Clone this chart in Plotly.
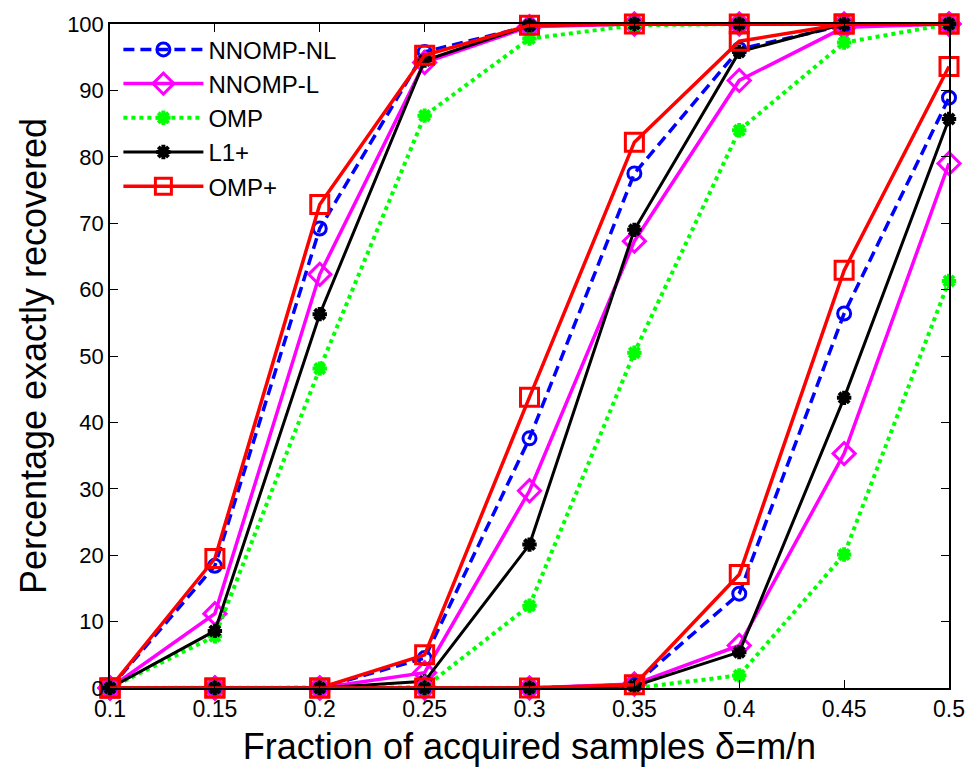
import plotly.graph_objects as go

# Fraction of acquired samples (delta = m/n)
delta = [0.1, 0.15, 0.2, 0.25, 0.3, 0.35, 0.4, 0.45, 0.5]

# Percentage of exactly recovered signals, one row per sparsity level
nnomp_nl = [
    [0, 18.4, 69.2, 95.8, 99.7, 100, 100, 100, 100],
    [0, 0, 0, 4.5, 37.6, 77.5, 96.2, 99.8, 100],
    [0, 0, 0, 0, 0, 0.5, 14.2, 56.4, 88.9],
]
nnomp_l = [
    [0, 11.2, 62.3, 94.2, 99.6, 100, 100, 100, 100],
    [0, 0, 0, 2.3, 29.7, 67.3, 91.5, 99.5, 100],
    [0, 0, 0, 0, 0, 0.6, 6.4, 35.3, 79.0],
]
omp = [
    [0, 7.8, 48.1, 86.2, 97.8, 99.8, 100, 100, 100],
    [0, 0, 0, 0.1, 12.4, 50.5, 84.0, 97.2, 100],
    [0, 0, 0, 0, 0, 0, 1.9, 20.1, 61.3],
]
l1_plus = [
    [0, 8.6, 56.3, 94.5, 99.8, 100, 100, 100, 100],
    [0, 0, 0, 1.0, 21.6, 69.0, 95.8, 100, 100],
    [0, 0, 0, 0, 0, 0.3, 5.4, 43.7, 85.7],
]
omp_plus = [
    [0, 19.5, 72.8, 95.3, 99.8, 100, 100, 100, 100],
    [0, 0, 0, 5.0, 43.8, 82.2, 97.4, 100, 100],
    [0, 0, 0, 0, 0, 0.5, 17.1, 62.9, 93.6],
]

methods = ["NNOMP-NL", "NNOMP-L", "OMP", "L1+", "OMP+"]
series = [nnomp_nl, nnomp_l, omp, l1_plus, omp_plus]

styles = {
    "NNOMP-NL": dict(line=dict(color="#0000ff", width=3.5, dash="11px,6px"),
                     marker=dict(symbol="circle-open", size=13, color="#0000ff",
                                 line=dict(width=3, color="#0000ff"))),
    "NNOMP-L": dict(line=dict(color="#ff00ff", width=3.5, dash="solid"),
                    marker=dict(symbol="diamond-open", size=17, color="#ff00ff",
                                line=dict(width=3, color="#ff00ff"))),
    "OMP": dict(line=dict(color="#00ff00", width=4, dash="4px,4px"),
                marker=dict(symbol="asterisk-open", size=12, color="#00ff00",
                            line=dict(width=4, color="#00ff00"))),
    "L1+": dict(line=dict(color="#000000", width=3, dash="solid"),
                marker=dict(symbol="asterisk-open", size=12, color="#000000",
                            line=dict(width=4, color="#000000"))),
    "OMP+": dict(line=dict(color="#ff0000", width=3.5, dash="solid"),
                 marker=dict(symbol="square-open", size=18, color="#ff0000",
                             line=dict(width=3, color="#ff0000"))),
}

fig = go.Figure()
for k in range(3):
    for name, data in zip(methods, series):
        st = styles[name]
        fig.add_trace(go.Scatter(
            x=delta, y=data[k], mode="lines+markers", name=name,
            legendgroup=name, showlegend=(k == 0),
            line=st["line"], marker=st["marker"], cliponaxis=False,
        ))

font_family = "Liberation Sans, Arial, sans-serif"
fig.update_layout(
    width=977, height=772,
    margin=dict(l=110, r=20, t=21, b=84),
    paper_bgcolor="white", plot_bgcolor="white",
    font=dict(family=font_family, color="black"),
    showlegend=True,
    legend=dict(
        x=0.01, y=0.995, xanchor="left", yanchor="top",
        bgcolor="rgba(255,255,255,0)", borderwidth=0,
        font=dict(size=24, family=font_family),
        itemwidth=80, tracegroupgap=0,
    ),
)
fig.update_xaxes(
    range=[0.1, 0.5], tickvals=delta,
    ticktext=["0.1", "0.15", "0.2", "0.25", "0.3", "0.35", "0.4", "0.45", "0.5"],
    ticks="inside", ticklen=8, tickcolor="black", tickwidth=1,
    showline=True, linecolor="black", linewidth=1.5, mirror="ticks",
    showgrid=False, zeroline=False,
    tickfont=dict(size=23, family=font_family),
    title=dict(text="Fraction of acquired samples δ=m/n",
               font=dict(size=36, family=font_family), standoff=12),
)
fig.update_yaxes(
    range=[0, 100], tickvals=list(range(0, 101, 10)),
    ticks="inside", ticklen=8, tickcolor="black", tickwidth=1,
    showline=True, linecolor="black", linewidth=1.5, mirror="ticks",
    showgrid=False, zeroline=False,
    tickfont=dict(size=22, family=font_family),
    title=dict(text="Percentage exactly recovered",
               font=dict(size=36, family=font_family), standoff=10),
)

fig.write_html("out.html")
